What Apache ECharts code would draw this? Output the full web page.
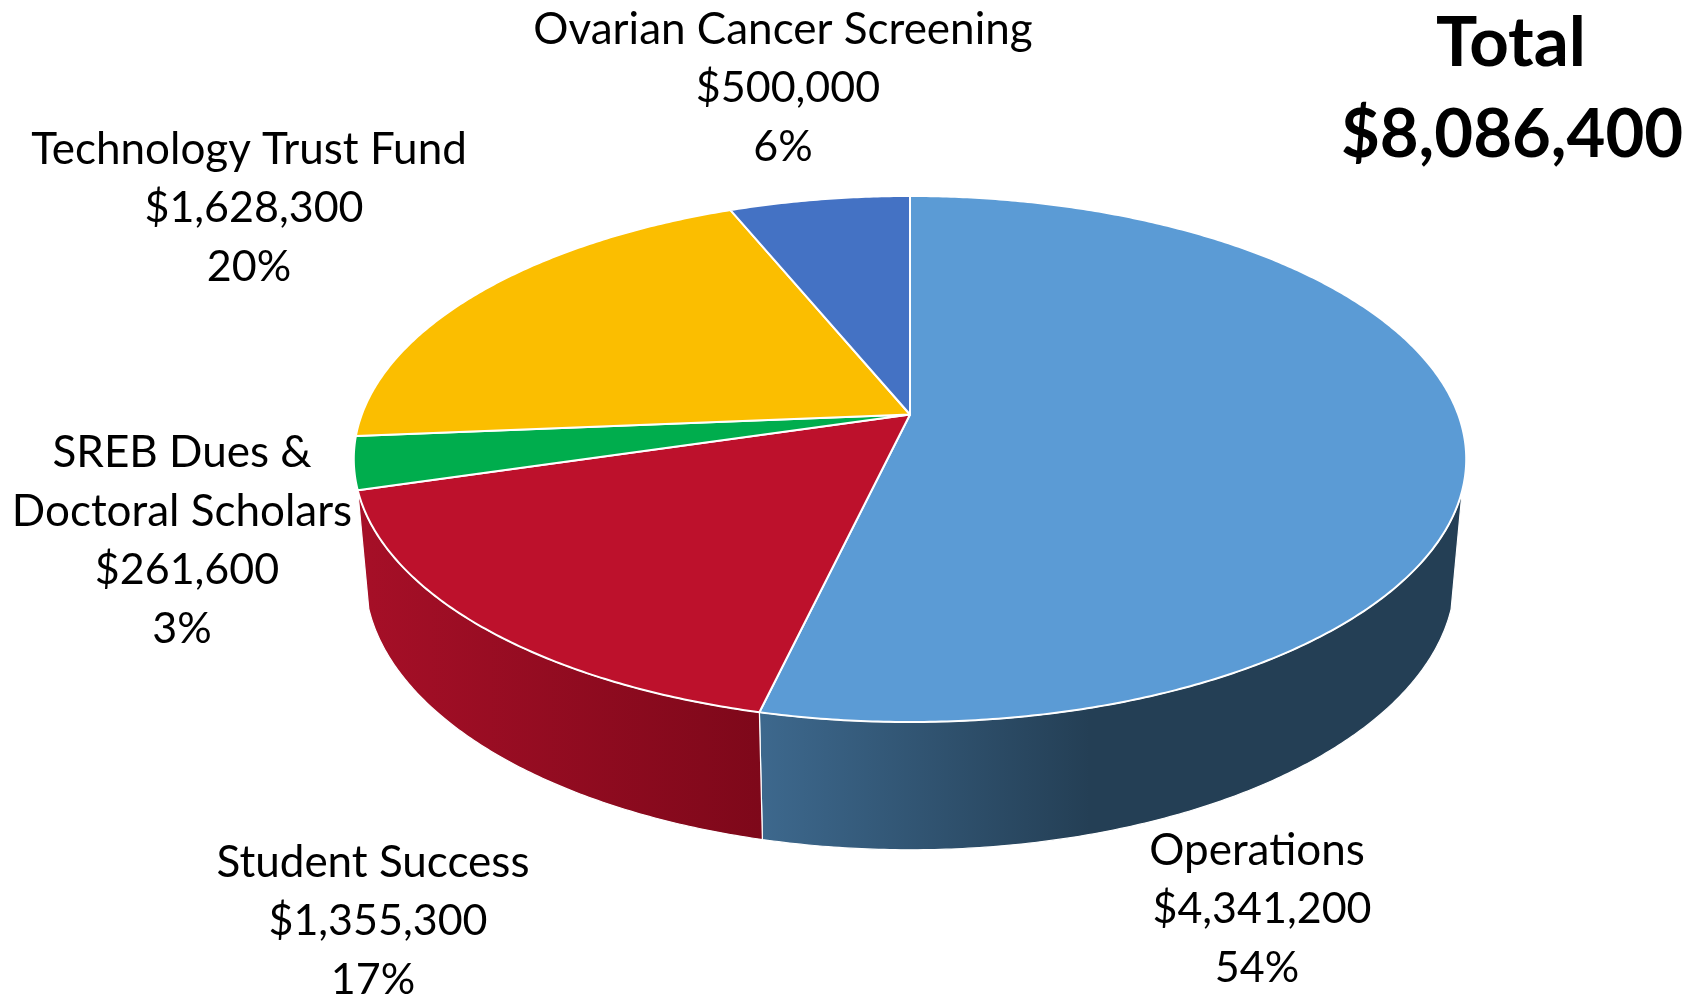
<!DOCTYPE html>
<html><head><meta charset="utf-8">
<style>html,body{margin:0;padding:0;background:#fff;overflow:hidden}#c{width:1697px;height:996px}</style>
<script src="https://cdn.jsdelivr.net/npm/echarts@6/dist/echarts.min.js"></script>
</head><body><div id="c"></div>
<script>
var categories = ['Operations','Student Success','SREB Dues &\nDoctoral Scholars','Technology Trust Fund','Ovarian Cancer Screening'];
var amounts = [4341200,1355300,261600,1628300,500000];
var percentLabels = ['54%','17%','3%','20%','6%'];
var amountLabels = ['$4,341,200','$1,355,300','$261,600','$1,628,300','$500,000'];
var totalLabel = ['Total','$8,086,400'];

var topColors = ['#5B9BD5','#BD112C','#00AD4D','#FBBE00','#4472C4'];
var sideFills = [
  {from:762,to:1090,stops:['#3D688D','#243F55']},
  {from:369,to:762,stops:['#A50F27','#7E081A']}
];
var labelPos = [
  {x:1257,y:851},{x:373,y:863},{x:182,y:453},{x:249,y:150},{x:783,y:30}
];
var FONT='Lato', NAME_SIZE=44, VALUE_SIZE=43, LINE=58.6;

// Tilted disc: perspective projection of the unit circle.
var APEX={x:910,y:414.5}, RX=548.2, RY=255.5, K=-0.1692;
var BOTTOM={sx:0.98,sy:1.0405,dy:98.5};
var FRONT=[106.5,253.6];
var sum=amounts.reduce(function(a,b){return a+b;},0);
var starts=[],acc=0;
amounts.forEach(function(v){starts.push(acc/sum*360);acc+=v;});
function rim(deg){
  var t=deg*Math.PI/180,u=Math.sin(t),v=-Math.cos(t),w=1+K*v;
  return [APEX.x+RX*u/w,APEX.y+RY*v/w];
}
function low(p){return [APEX.x+(p[0]-APEX.x)*BOTTOM.sx,p[1]*BOTTOM.sy+BOTTOM.dy];}
function arc(a,b){var pts=[],n=Math.max(2,Math.ceil((b-a)*2));for(var i=0;i<=n;i++)pts.push(rim(a+(b-a)*i/n));return pts;}

function renderTop(params,api){
  var i=params.dataIndex,a=starts[i],b=a+api.value(0)/sum*360;
  return {type:'polygon',shape:{points:[[APEX.x,APEX.y]].concat(arc(a,b))},
    style:{fill:topColors[i],stroke:'#fff',lineWidth:2,lineJoin:'round'}};
}
function renderSide(params,api){
  var i=params.dataIndex,a=starts[i],b=a+api.value(0)/sum*360;
  a=Math.max(a,FRONT[0]);b=Math.min(b,FRONT[1]);
  if(b<=a||!sideFills[i])return null;
  var up=arc(a,b),dn=up.map(low).reverse(),f=sideFills[i];
  return {type:'polygon',shape:{points:up.concat(dn)},
    style:{fill:new echarts.graphic.LinearGradient(f.from,0,f.to,0,[{offset:0,color:f.stops[0]},{offset:1,color:f.stops[1]}],true),
           stroke:'#fff',lineWidth:1.2,lineJoin:'round'}};
}
function renderLabel(params,api){
  var i=params.dataIndex,pos=labelPos[i],lines=categories[i].split('\n');
  var kids=[],y=pos.y;
  function add(txt,dx,size){kids.push({type:'text',style:{text:txt,x:pos.x+dx,y:y,fill:'#000',
      font:size+'px '+FONT,align:'center',verticalAlign:'middle'}});y+=LINE;}
  lines.forEach(function(l){add(l,0,NAME_SIZE);});
  add(amountLabels[i],5,VALUE_SIZE);add(percentLabels[i],0,VALUE_SIZE);
  return {type:'group',children:kids};
}
var rows=amounts.map(function(v){return [v];});
var chart=echarts.init(document.getElementById('c'),null,{renderer:'canvas'});
chart.setOption({
  animation:false,backgroundColor:'#fff',
  title:[
    {text:totalLabel[0],left:1506,top:39,textAlign:'center',textVerticalAlign:'middle',
     textStyle:{fontFamily:FONT,fontWeight:'bold',fontSize:69,color:'#000'}},
    {text:totalLabel[1],left:1507,top:130,textAlign:'center',textVerticalAlign:'middle',
     textStyle:{fontFamily:FONT,fontWeight:'bold',fontSize:67,color:'#000'}},
    {text:'6',left:1651,top:992,textAlign:'center',textVerticalAlign:'top',
     textStyle:{fontFamily:FONT,fontSize:20,color:'#8B8B8B',fontWeight:'normal'}}
  ],
  series:[
    {type:'custom',coordinateSystem:'none',silent:true,data:rows,renderItem:renderSide,z:1},
    {type:'custom',coordinateSystem:'none',silent:true,data:rows,renderItem:renderTop,z:2},
    {type:'custom',coordinateSystem:'none',silent:true,data:rows,renderItem:renderLabel,z:3}
  ]
});
</script></body></html>
